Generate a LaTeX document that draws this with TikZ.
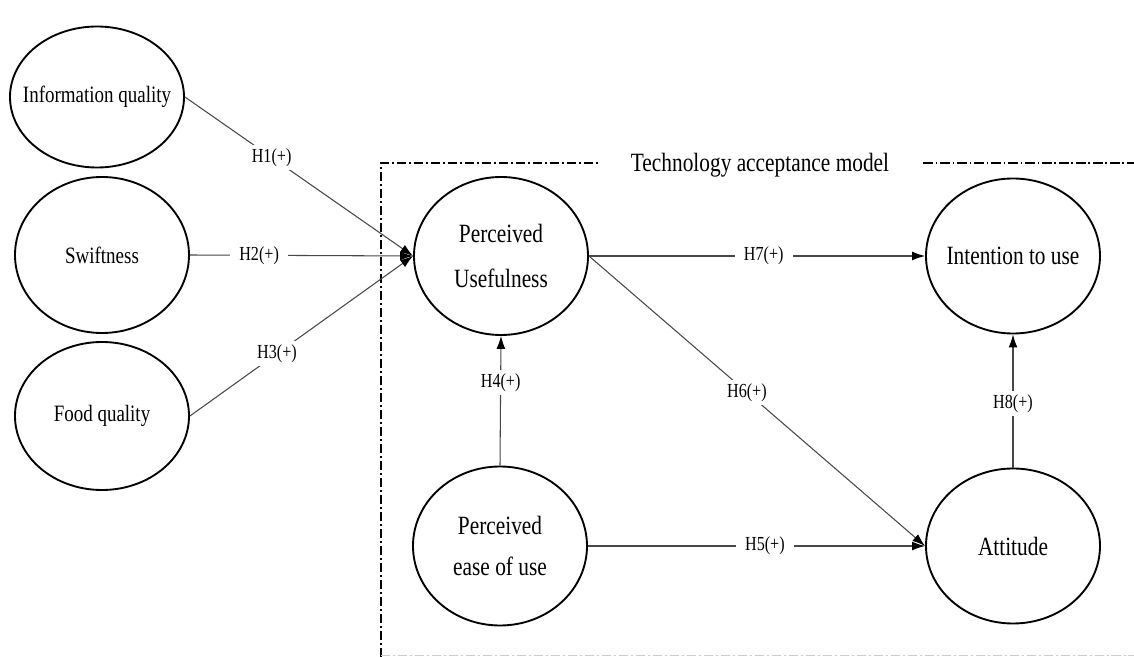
\documentclass[tikz,border=0pt]{standalone}
\usepackage{fontspec}
\setmainfont{Liberation Serif}[FakeStretch=0.81]
\usetikzlibrary{shapes.geometric,arrows.meta}

\begin{document}
\begin{tikzpicture}[>={Latex[length=11pt,width=7.5pt,color=black]}, x=0.03cm, y=-0.03cm,
  latent/.style={draw, ellipse, line width=1.6pt, minimum width=5.22cm, inner sep=0pt},
  hyp/.style={->, draw=black!72, line width=0.9pt},
  hlab/.style={fill=white, inner xsep=8pt, inner ysep=3pt, font=\fontsize{17}{20}\selectfont},
  small/.style={font=\fontsize{20}{24}\selectfont},
  big/.style={font=\fontsize{22.5}{37}\selectfont, align=center},
  tamframe/.style={line width=1.2pt, dash pattern=on 8pt off 2.5pt on 1.5pt off 2.5pt}]
  \useasboundingbox (0,0) rectangle (1134,657);

  % TAM frame
  \coordinate (tamA) at (381,657);
  \coordinate (tamB) at (381,163);
  \coordinate (tamC) at (1134,163);
  \coordinate (tamD) at (381,655);
  \coordinate (tamE) at (1134,655);
  \draw[tamframe] (tamA) -- (tamB) -- (tamC);
  \draw[tamframe, draw=black!20, line width=0.8pt] (tamD) -- (tamE);
  \node[big, fill=white, inner xsep=27pt, inner ysep=2pt] (tam) at (760,165) {Technology acceptance model};

  % External factors
  \node[latent, minimum height=4.23cm, label={[small]center:Information quality}] (iq) at (97,97) {};
  \node[latent, minimum height=4.68cm, label={[small]center:Swiftness}] (sw) at (102,255) {};
  \node[latent, minimum height=4.44cm, label={[small]center:Food quality}] (fq) at (102,416) {};

  % TAM constructs
  \node[latent, minimum height=4.74cm, label={[big, font=\fontsize{22.5}{39}\selectfont]center:Perceived\\Usefulness}] (pu) at (501,256) {};
  \node[latent, minimum height=4.77cm, label={[big, font=\fontsize{22.5}{35}\selectfont]center:Perceived\\ease of use}] (peou) at (500,546) {};
  \node[latent, minimum height=4.65cm, label={[big]center:Intention to use}] (itu) at (1013,256) {};
  \node[latent, minimum height=4.65cm, label={[big]center:Attitude}] (att) at (1013,546) {};

  % Hypotheses
  \draw[hyp] (iq.east) -- (pu.west) node[hlab, pos=0.38] {H1(+)};
  \draw[hyp] (sw.east) -- (pu.west) node[hlab, pos=0.31] {H2(+)};
  \draw[hyp] (fq.east) -- (pu.west) node[hlab, pos=0.39] {H3(+)};
  \draw[hyp] (peou.north) -- (pu.south) node[hlab, pos=0.64] {H4(+)};
  \draw[hyp] (peou.east) -- (att.west) node[hlab, pos=0.525] {H5(+)};
  \draw[hyp] (pu.east) -- (att.west) node[hlab, pos=0.47] {H6(+)};
  \draw[hyp] (pu.east) -- (itu.west) node[hlab, pos=0.52] {H7(+)};
  \draw[hyp] (att.north) -- (itu.south) node[hlab, pos=0.48] {H8(+)};
\end{tikzpicture}
\end{document}
